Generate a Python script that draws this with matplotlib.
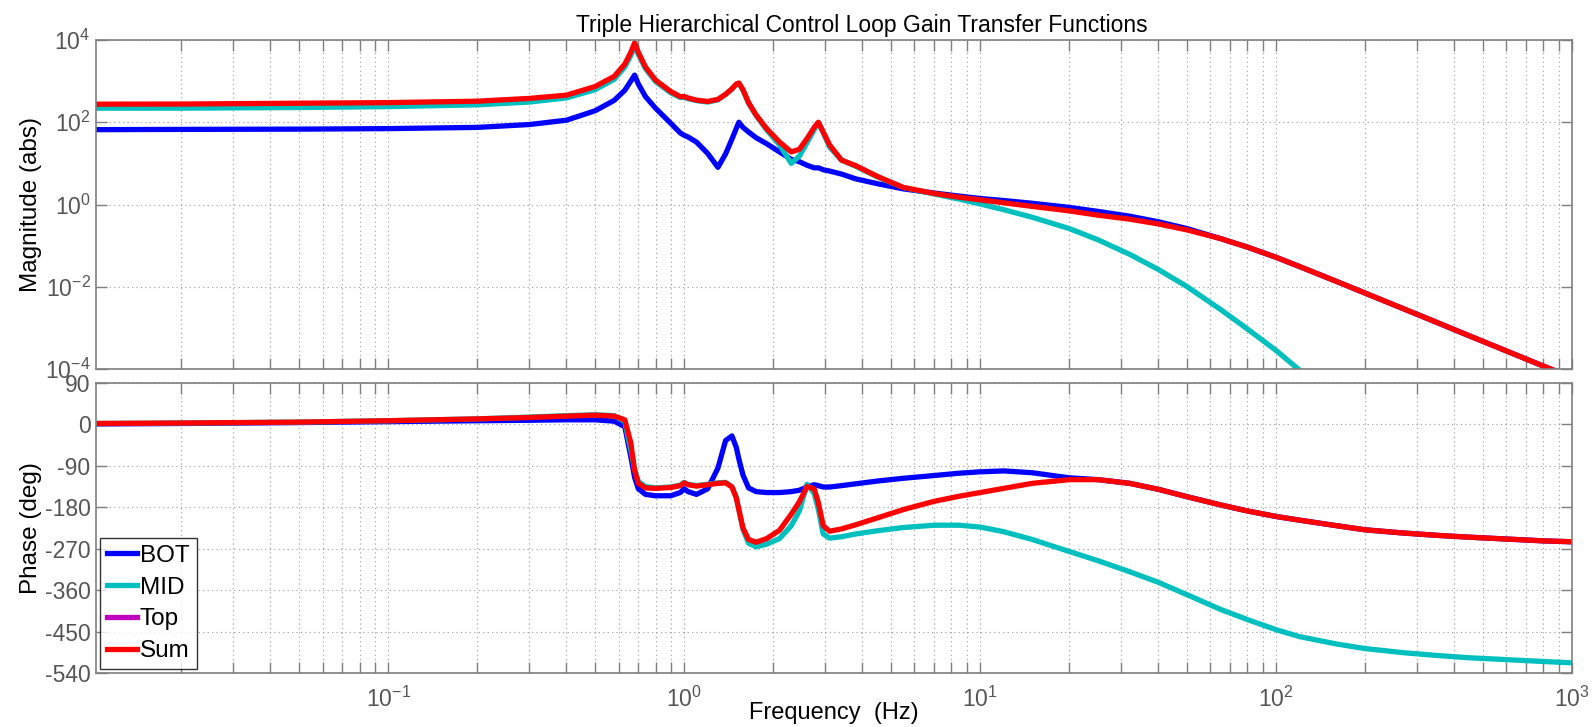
import numpy as np
import matplotlib
matplotlib.use("Agg")
import matplotlib.pyplot as plt
from matplotlib.ticker import LogLocator, NullLocator, NullFormatter, FixedLocator

plt.rcParams['font.family'] = ['Liberation Sans', 'DejaVu Sans']
plt.rcParams['mathtext.default'] = 'regular'
plt.rcParams['axes.unicode_minus'] = False

# frequency grid (Hz)
freq = [0.0103, 0.02, 0.05, 0.1, 0.2, 0.3, 0.4, 0.5, 0.58, 0.63, 0.66, 0.68, 0.70, 0.74,
        0.8, 0.9, 0.97, 1.0, 1.03, 1.1, 1.2, 1.3, 1.38, 1.45, 1.5, 1.53, 1.58, 1.65,
        1.75, 1.9, 2.1, 2.3, 2.45, 2.6, 2.75, 2.84, 2.95, 3.1, 3.4, 3.8, 4.5, 5.5,
        7, 8.5, 10, 12, 15, 20, 25, 32, 40, 50, 65, 80, 100, 120, 160, 200, 270,
        350, 450, 600, 800, 1000]

# magnitude (abs)
mag_bot = [66, 67, 68, 70, 75, 88, 112, 190, 340, 600, 1000, 1400, 850, 420,
           220, 95, 55, 48, 44, 33, 17.5, 8, 17, 39, 71, 100, 75, 58,
           42, 30, 19, 12.5, 11, 9, 7.8, 7.8, 7, 6.5, 5.5, 4.2, 3.2, 2.4,
           1.9, 1.6, 1.4, 1.25, 1.07, 0.85, 0.68, 0.52, 0.38, 0.26, 0.148, 0.092, 0.052, 0.031, 0.0135, 0.0070, 0.0029,
           0.00135, 6.4e-4, 2.75e-4, 1.18e-4, 6.2e-5]
mag_mid = [220, 220, 228, 240, 265, 310, 390, 620, 1100, 2200, 4200, 7000, 4500, 2000,
           980, 520, 400, 400, 375, 335, 310, 350, 470, 640, 840, 880, 600, 290,
           145, 65, 28, 10, 15, 32, 66, 98, 55, 25, 12, 8.5, 4.7, 2.6,
           1.8, 1.35, 1.03, 0.75, 0.49, 0.26, 0.139, 0.0615, 0.0263, 0.0101, 0.00278, 9.4e-4, 2.82e-4, 9.4e-5, np.nan, np.nan, np.nan,
           np.nan, np.nan, np.nan, np.nan, np.nan]
mag_top = []
mag_sum = [275, 277, 290, 300, 325, 380, 455, 740, 1300, 2600, 5000, 8500, 5000, 2200,
           1060, 560, 420, 420, 390, 345, 320, 360, 480, 650, 850, 900, 620, 300,
           150, 70, 33, 19, 22, 40, 75, 100, 58, 28, 12, 8.8, 4.8, 2.6,
           1.85, 1.5, 1.3, 1.1, 0.9, 0.7, 0.55, 0.44, 0.337, 0.241, 0.148, 0.092, 0.052, 0.031, 0.0135, 0.0070, 0.0029,
           0.00135, 6.4e-4, 2.75e-4, 1.18e-4, 6.2e-5]

# phase (deg)
ph_bot = [1, 2, 4, 6, 8, 9, 10, 10, 7, -5, -70, -115, -140, -152,
          -155, -155, -148, -140, -146, -152, -140, -95, -35, -25, -50, -75, -110, -138,
          -146, -148, -148, -146, -143, -136, -131, -133, -136, -136, -133, -129, -123, -117,
          -111, -106, -103, -101, -105, -116, -120, -128, -141, -157, -175, -188, -200, -208, -220, -229, -236,
          -241, -245, -249, -253, -255]
ph_mid = [2, 3, 5, 8, 12, 16, 19, 21, 19, 6, -55, -98, -124, -135,
          -138, -136, -132, -126, -130, -133, -130, -127, -126, -135, -158, -185, -228, -258,
          -266, -260, -248, -220, -188, -130, -150, -185, -238, -247, -244, -238, -231, -224,
          -219, -219, -223, -233, -250, -276, -296, -320, -343, -370, -402, -424, -446, -461, -477, -487, -496,
          -502, -507, -511, -515, -518]
ph_top = []
ph_sum = [2, 3, 5, 8, 12, 15, 18, 20, 18, 10, -40, -100, -128, -138,
          -139, -137, -133, -127, -131, -134, -131, -128, -127, -136, -160, -185, -225, -250,
          -256, -248, -230, -195, -168, -135, -140, -170, -220, -232, -227, -218, -203, -185,
          -167, -156, -148, -139, -128, -120, -120, -128, -141, -157, -175, -188, -200, -208, -220, -229, -236,
          -241, -245, -249, -253, -255]

labels = ['BOT', 'MID', 'Top', 'Sum']
colors = ['#0000ff', '#00bfbf', '#bf00bf', '#ff0000']
mags = [mag_bot, mag_mid, mag_top, mag_sum]
phases = [ph_bot, ph_mid, ph_top, ph_sum]

fig = plt.figure(figsize=(15.96, 7.27), dpi=100)
ax1 = fig.add_axes([0.0602, 0.4924, 0.9248, 0.4526])
ax2 = fig.add_axes([0.0602, 0.0743, 0.9248, 0.3989])

for lab, col, m, p in zip(labels, colors, mags, phases):
    fx = freq if len(m) else []
    ax1.plot(fx, m, color=col, lw=3.8, label=lab, solid_joinstyle='round')
    ax2.plot(fx, p, color=col, lw=3.8, label=lab, solid_joinstyle='round')

grey = '#7f7f7f'
for ax in (ax1, ax2):
    ax.set_xscale('log')
    ax.set_xlim(0.0103, 1000)
    ax.xaxis.set_major_locator(LogLocator(base=10, numticks=12))
    ax.xaxis.set_minor_locator(LogLocator(base=10, subs=np.arange(2, 10), numticks=12))
    ax.xaxis.set_minor_formatter(NullFormatter())
    ax.grid(True, which='major', axis='both', ls=(0, (1, 3)), color='#9a9a9a', lw=0.8)
    ax.grid(True, which='minor', axis='x', ls=(0, (1, 3)), color='#9a9a9a', lw=0.8)
    ax.tick_params(which='both', direction='in', top=True, right=True, colors=grey,
                   labelcolor='#555555', labelsize=16.5, length=8, width=1)
    ax.tick_params(axis='y', pad=4)
    for s in ax.spines.values():
        s.set_color(grey)
        s.set_linewidth(1.2)

ax1.set_yscale('log')
ax1.set_ylim(1e-4, 1e4)
ax1.yaxis.set_major_locator(FixedLocator([1e-4, 1e-2, 1, 1e2, 1e4]))
ax1.yaxis.set_minor_locator(NullLocator())
ax1.tick_params(axis='x', which='both', labelbottom=False)
ax1.set_ylabel('Magnitude (abs)', fontsize=17.5, labelpad=2)
ax1.set_title('Triple Hierarchical Control Loop Gain Transfer Functions', fontsize=16.5, pad=6, x=0.519)

ax2.set_ylim(-540, 90)
ax2.set_yticks([90, 0, -90, -180, -270, -360, -450, -540])
ax2.set_ylabel('Phase (deg)', fontsize=17.5, labelpad=2)
ax2.set_xlabel('Frequency  (Hz)', fontsize=17, va='baseline')
ax2.xaxis.set_label_coords(0.5, -0.1586)
ax2.tick_params(axis='x', pad=10)

leg = ax2.legend(loc='lower left', fontsize=17.5, handlelength=1.25, handletextpad=0.1,
                 labelspacing=0.4, borderpad=0.3, borderaxespad=0.15, fancybox=False)
leg.get_frame().set_edgecolor('black')
leg.get_frame().set_linewidth(1.0)
for h in leg.legend_handles:
    h.set_linewidth(3.8)

fig.savefig('out.png', dpi=100)
